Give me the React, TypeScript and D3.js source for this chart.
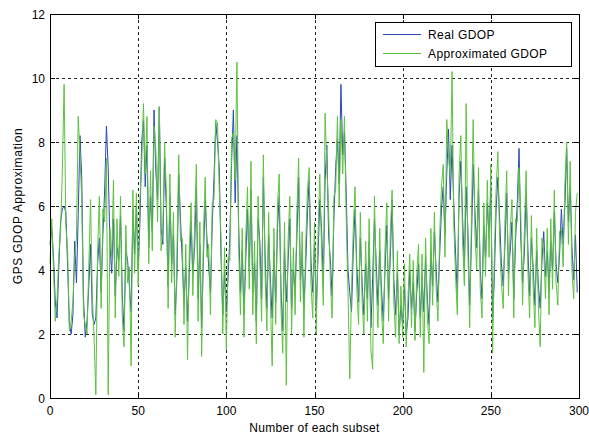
import React, { useEffect, useRef } from "react";
import * as d3 from "d3";

const realGDOP: number[] = [
  4.8, 5.3, 4.4, 3.0, 2.5, 4.1, 5.5, 5.9, 6.0, 5.8,
  4.1, 2.3, 2.0, 2.6, 4.9, 3.6, 5.7, 8.2, 6.9, 3.1,
  1.9, 2.4, 3.5, 4.8, 2.6, 2.3, 2.5, 4.2, 5.0, 3.3,
  5.1, 6.5, 8.5, 7.2, 4.8, 3.9, 5.6, 3.2, 4.7, 4.3,
  5.7, 3.2, 2.1, 4.6, 4.3, 3.5, 2.7, 5.9, 4.5, 6.0,
  4.0, 5.5, 8.0, 8.7, 6.6, 7.9, 4.7, 6.3, 5.2, 9.0,
  7.1, 6.2, 9.1, 5.3, 4.8, 7.5, 5.9, 3.5, 6.3, 4.2,
  5.1, 2.6, 3.8, 7.0, 5.6, 4.3, 3.0, 4.1, 2.4, 3.9,
  5.5, 3.9, 4.7, 6.6, 3.1, 4.8, 2.2, 4.4, 6.2, 5.0,
  4.1, 3.3, 5.4, 6.9, 8.6, 8.0, 7.2, 4.4, 2.6, 4.0,
  2.7, 3.8, 5.0, 7.4, 9.0, 6.1, 8.2, 5.4, 3.3, 4.6,
  2.6, 4.3, 5.9, 4.0, 6.5, 3.3, 4.2, 2.4, 5.6, 4.9,
  3.1, 6.9, 4.4, 2.8, 5.1, 3.7, 2.5, 4.6, 3.0, 5.3,
  6.3, 3.4, 2.1, 4.7, 3.0, 4.2, 5.6, 2.8, 4.0, 3.4,
  5.0, 6.9, 3.7, 4.5, 2.9, 4.1, 5.8, 6.8, 4.3, 3.3,
  4.8, 2.8, 4.4, 6.2, 5.3, 3.6, 6.8, 7.9, 5.1, 4.3,
  3.2, 5.6, 7.2, 8.1, 6.7, 9.8, 7.6, 8.3, 6.4, 4.0,
  3.3, 2.7, 4.6, 5.9, 4.1, 3.0, 5.0, 3.6, 2.6, 4.2,
  3.1, 4.9, 2.2, 3.8, 5.6, 4.2, 2.9, 4.6, 3.4, 2.4,
  4.0, 5.4, 3.1, 4.4, 6.2, 3.7, 2.6, 3.9, 2.0, 2.9,
  2.3, 3.5, 2.0, 2.5, 4.0, 2.8, 3.6, 2.1, 3.3, 4.2,
  2.5, 3.8, 2.7, 4.4, 3.1, 2.3, 4.6, 3.5, 5.2, 4.0,
  3.0, 4.5, 5.9, 6.6, 5.1, 7.0, 8.4, 6.2, 7.9, 6.0,
  4.5, 3.2, 6.3, 7.4, 5.6, 4.1, 6.6, 5.2, 2.9, 4.9,
  7.3, 5.8, 4.7, 6.5, 4.0, 3.1, 5.4, 4.4, 6.1, 5.0,
  6.6, 2.4, 3.8, 5.9, 6.9, 5.6, 4.2, 3.5, 4.8, 6.4,
  3.9, 4.6, 5.5, 3.1, 4.9, 6.1, 7.8, 5.0, 3.6, 4.5,
  6.4, 4.7, 3.2, 5.0, 4.1, 2.9, 4.6, 3.5, 2.8, 4.3,
  5.2, 3.8, 4.6, 3.3, 4.9, 4.0, 5.8, 4.2, 3.6, 4.5,
  5.9, 4.8, 6.0, 7.8, 5.5, 6.6, 4.7, 3.7, 5.1, 3.3,
];

const approxGDOP: number[] = [
  4.2, 5.6, 4.0, 2.4, 3.1, 4.5, 5.2, 7.1, 9.8, 5.4,
  4.6, 2.1, 2.4, 3.0, 4.4, 5.0, 8.8, 7.6, 6.2, 2.6,
  2.3, 2.0, 4.1, 6.2, 3.2, 1.9, 0.1, 4.6, 6.3, 2.8,
  5.9, 5.5, 7.5, 0.1, 5.3, 4.4, 6.8, 2.5, 5.6, 3.8,
  6.3, 2.5, 1.6, 5.4, 3.6, 4.1, 1.0, 6.5, 3.9, 6.4,
  3.5, 6.2, 7.3, 9.2, 7.0, 8.8, 4.2, 7.1, 4.6, 8.5,
  7.8, 5.5, 9.1, 4.6, 5.3, 8.0, 6.4, 2.8, 7.0, 3.6,
  5.8, 1.9, 4.5, 7.6, 4.9, 5.0, 2.3, 4.8, 1.2, 4.6,
  6.1, 3.2, 5.4, 7.3, 2.4, 5.5, 1.3, 5.0, 6.9, 4.4,
  4.8, 2.6, 6.1, 6.2, 8.7, 8.6, 6.5, 5.0, 2.0, 4.7,
  1.5, 4.4, 4.3, 8.1, 8.3, 6.8, 10.5, 4.7, 2.6, 5.3,
  1.9, 5.0, 6.6, 3.4, 7.4, 2.6, 4.9, 1.7, 6.3, 4.3,
  2.4, 7.6, 3.8, 2.1, 5.8, 3.0, 1.0, 5.3, 2.3, 6.0,
  7.0, 2.8, 1.4, 5.5, 0.4, 4.9, 6.3, 2.0, 4.7, 2.6,
  5.8, 7.5, 3.0, 5.2, 1.9, 4.8, 6.5, 7.2, 3.6, 2.5,
  5.5, 2.0, 5.1, 7.0, 4.6, 2.9, 8.9, 7.2, 5.9, 3.6,
  2.5, 6.3, 6.5, 8.8, 6.0, 8.7, 7.0, 8.8, 5.6, 3.3,
  0.6, 3.4, 5.3, 6.6, 3.4, 2.3, 5.8, 3.0, 2.0, 4.9,
  2.4, 5.6, 1.5, 0.9, 6.3, 3.6, 2.2, 5.3, 2.7, 1.7,
  4.7, 6.1, 2.4, 5.1, 6.5, 3.0, 1.9, 4.6, 1.7, 3.5,
  1.9, 4.2, 1.6, 3.1, 4.5, 2.2, 4.3, 1.8, 3.9, 4.8,
  1.9, 4.5, 0.8, 5.0, 2.5, 1.7, 5.3, 2.9, 5.8, 3.4,
  2.4, 5.1, 6.6, 7.3, 4.4, 8.7, 7.6, 6.9, 10.2, 5.4,
  3.8, 2.6, 7.0, 8.2, 4.9, 3.5, 9.2, 4.6, 2.2, 5.6,
  8.7, 5.1, 4.0, 7.2, 3.4, 2.5, 6.1, 3.8, 6.8, 4.4,
  7.3, 1.4, 4.5, 6.5, 7.7, 4.9, 3.6, 2.8, 5.5, 7.1,
  3.2, 5.3, 6.2, 2.5, 5.6, 5.5, 7.2, 5.7, 2.9, 5.2,
  7.1, 4.0, 2.5, 5.7, 3.5, 2.2, 5.3, 2.8, 1.6, 5.0,
  4.6, 3.1, 5.3, 2.6, 5.6, 3.4, 6.5, 3.6, 2.9, 5.2,
  5.3, 4.1, 6.7, 8.0, 4.8, 7.4, 4.0, 3.1, 5.8, 6.4,
];

const xTicks: number[] = [0, 50, 100, 150, 200, 250, 300];
const yTicks: number[] = [0, 2, 4, 6, 8, 10, 12];
const seriesNames: string[] = ["Real GDOP", "Approximated GDOP"];
const seriesColors: string[] = ["#2b47b9", "#5cc23e"];

const W = 589;
const H = 436;
const M = { left: 50, right: 579, top: 14, bottom: 398 };
const FONT = "'Liberation Sans', Arial, Helvetica, sans-serif";

export default function App() {
  const ref = useRef<SVGSVGElement | null>(null);

  useEffect(() => {
    document.body.style.margin = "0";
    const svg = d3.select(ref.current);
    svg.selectAll("*").remove();

    const x = d3.scaleLinear().domain([0, 300]).range([M.left, M.right]);
    const y = d3.scaleLinear().domain([0, 12]).range([M.bottom, M.top]);

    svg.append("rect").attr("x", 0).attr("y", 0).attr("width", W).attr("height", H).attr("fill", "#fff");

    const g = svg.append("g");
    xTicks.slice(1, -1).forEach((t) => {
      g.append("line")
        .attr("x1", Math.round(x(t)) + 0.5).attr("x2", Math.round(x(t)) + 0.5)
        .attr("y1", M.top).attr("y2", M.bottom)
        .attr("stroke", "#222").attr("stroke-width", 1).attr("stroke-dasharray", "3,3");
    });
    yTicks.slice(1, -1).forEach((t) => {
      g.append("line")
        .attr("y1", Math.round(y(t)) + 0.5).attr("y2", Math.round(y(t)) + 0.5)
        .attr("x1", M.left).attr("x2", M.right)
        .attr("stroke", "#222").attr("stroke-width", 1).attr("stroke-dasharray", "3,3");
    });

    const line = d3.line<number>().x((_, i) => x(i)).y((d) => y(d));
    svg.append("path").datum(realGDOP).attr("d", line).attr("fill", "none")
      .attr("stroke", seriesColors[0]).attr("stroke-width", 1);
    svg.append("path").datum(approxGDOP).attr("d", line).attr("fill", "none")
      .attr("stroke", seriesColors[1]).attr("stroke-width", 1);

    svg.append("rect")
      .attr("x", M.left + 0.5).attr("y", M.top + 0.5)
      .attr("width", M.right - M.left).attr("height", M.bottom - M.top)
      .attr("fill", "none").attr("stroke", "#000").attr("stroke-width", 1);

    const tl = 5;
    xTicks.forEach((t) => {
      const px = Math.round(x(t)) + 0.5;
      svg.append("line").attr("x1", px).attr("x2", px).attr("y1", M.bottom).attr("y2", M.bottom - tl).attr("stroke", "#000");
      svg.append("line").attr("x1", px).attr("x2", px).attr("y1", M.top).attr("y2", M.top + tl).attr("stroke", "#000");
      svg.append("text").attr("x", x(t)).attr("y", M.bottom + 17)
        .attr("text-anchor", "middle").attr("font-family", FONT).attr("font-size", 12).text(String(t));
    });
    yTicks.forEach((t) => {
      const py = Math.round(y(t)) + 0.5;
      svg.append("line").attr("y1", py).attr("y2", py).attr("x1", M.left).attr("x2", M.left + tl).attr("stroke", "#000");
      svg.append("line").attr("y1", py).attr("y2", py).attr("x1", M.right).attr("x2", M.right - tl).attr("stroke", "#000");
      svg.append("text").attr("x", M.left - 5).attr("y", y(t) + 4.5)
        .attr("text-anchor", "end").attr("font-family", FONT).attr("font-size", 12).text(String(t));
    });

    svg.append("text").attr("x", (M.left + M.right) / 2).attr("y", 432)
      .attr("text-anchor", "middle").attr("font-family", FONT).attr("font-size", 12)
      .attr("letter-spacing", 0.3)
      .text("Number of each subset");
    svg.append("text").attr("transform", `translate(22,${(M.top + M.bottom) / 2}) rotate(-90)`)
      .attr("text-anchor", "middle").attr("font-family", FONT).attr("font-size", 12)
      .attr("letter-spacing", 0.6)
      .text("GPS GDOP Approximation");

    const lg = svg.append("g");
    lg.append("rect").attr("x", 375.5).attr("y", 22.5).attr("width", 196).attr("height", 44)
      .attr("fill", "#fff").attr("stroke", "#000");
    seriesNames.forEach((name, i) => {
      const ly = 34.5 + i * 19;
      lg.append("line").attr("x1", 383).attr("x2", 421).attr("y1", ly).attr("y2", ly)
        .attr("stroke", seriesColors[i]).attr("stroke-width", 1);
      lg.append("text").attr("x", 428).attr("y", ly + 4.5).attr("font-family", FONT).attr("font-size", 12)
        .attr("letter-spacing", 0.4)
        .text(name);
    });
  }, []);

  return <svg ref={ref} width={W} height={H} style={{ display: "block" }} />;
}
